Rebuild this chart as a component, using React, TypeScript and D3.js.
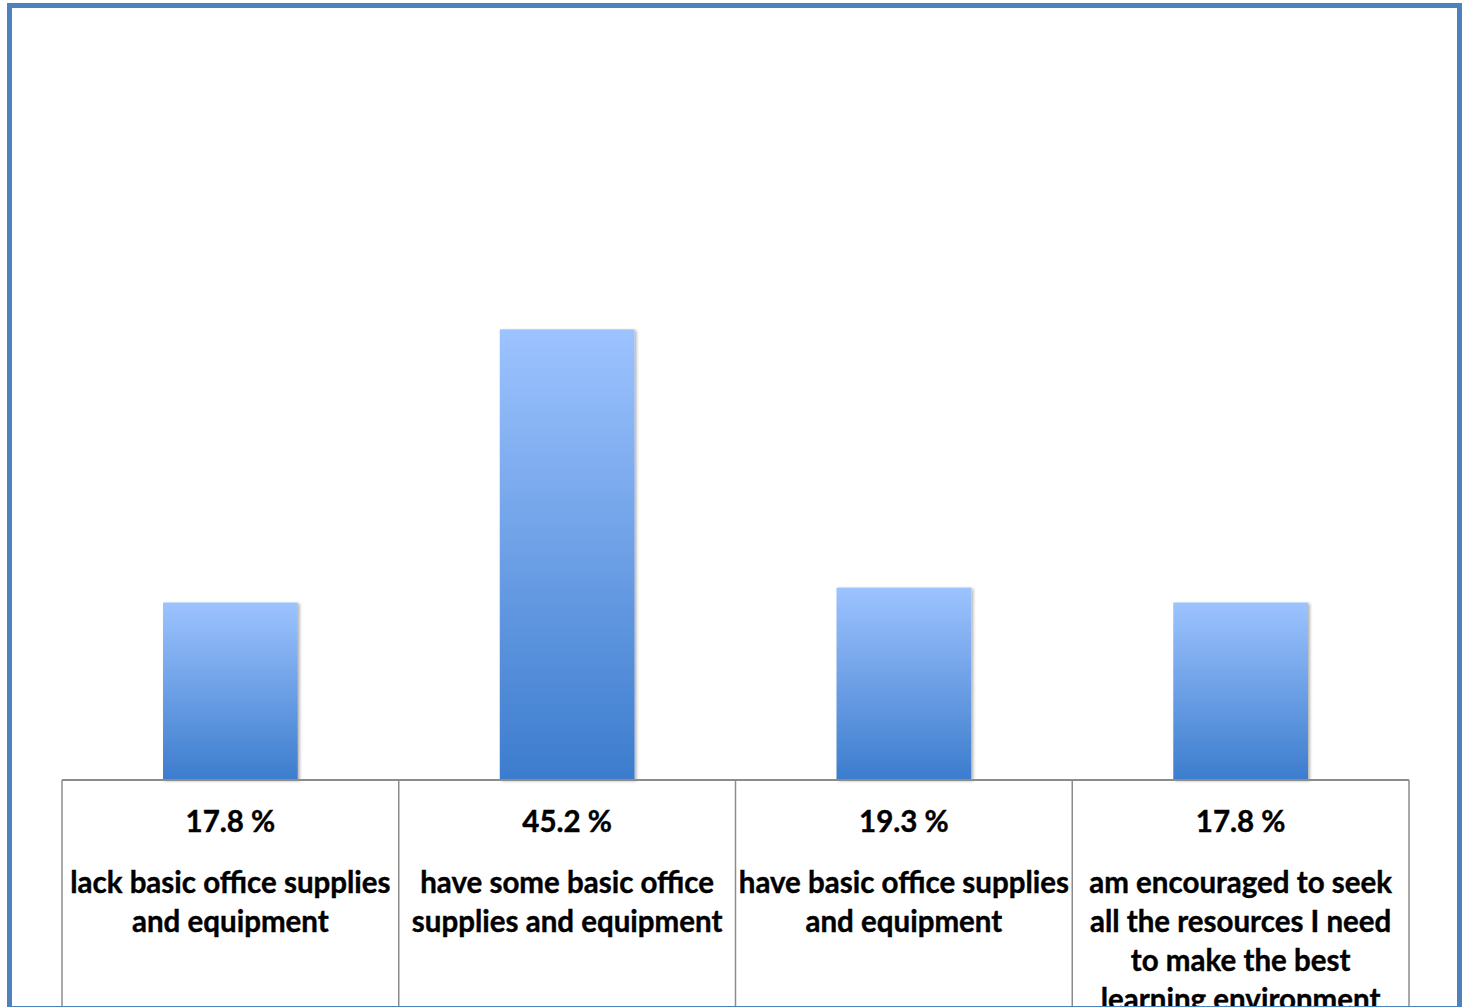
import React from 'react'
import * as d3 from 'd3'

const categories = [
  'lack basic office supplies and equipment',
  'have some basic office supplies and equipment',
  'have basic office supplies and equipment',
  'am encouraged to seek all the resources I need to make the best learning environment',
]
const values = [17.8, 45.2, 19.3, 17.8]
const labelLines = [
  ['lack basic office supplies', 'and equipment'],
  ['have some basic office', 'supplies and equipment'],
  ['have basic office supplies', 'and equipment'],
  ['am encouraged to seek', 'all the resources I need', 'to make the best', 'learning environment'],
]

const W = 1463
const H = 1007
const tableLeft = 62
const tableRight = 1409
const baseY = 780

const App: React.FC = () => {
  const x = d3.scaleBand<string>()
    .domain(categories)
    .range([tableLeft, tableRight])
    .paddingInner(0)
    .paddingOuter(0)
  const y = d3.scaleLinear().domain([0, 50]).range([baseY, baseY - 498.5])
  const bw = x.bandwidth() * 0.4
  const font = "Lato, 'Open Sans', sans-serif"

  return (
    <svg width={W} height={H} style={{ position: 'absolute', left: 0, top: 0, background: '#fff' }}>
      <defs>
        <linearGradient id="barGrad" x1="0" y1="0" x2="0" y2="1">
          <stop offset="0%" stopColor="#9dc3ff" />
          <stop offset="100%" stopColor="#3c7ccd" />
        </linearGradient>
        <filter id="shadow" x="-10%" y="-10%" width="120%" height="120%">
          <feDropShadow dx="2" dy="1" stdDeviation="1.5" floodColor="#000" floodOpacity="0.3" />
        </filter>
      </defs>
      {categories.map((c, i) => (
        <rect key={c} x={x(c)! + (x.bandwidth() - bw) / 2} y={y(values[i])}
          width={bw} height={baseY - y(values[i])} fill="url(#barGrad)" filter="url(#shadow)" />
      ))}
      {/* data table */}
      <line x1={tableLeft} x2={tableRight} y1={baseY} y2={baseY} stroke="#8c8c8c" strokeWidth={2} />
      {[...categories.map(c => x(c)!), tableRight].map((lx, i) => (
        <line key={i} x1={lx} x2={lx} y1={baseY} y2={H} stroke="#8c8c8c" strokeWidth={1.5} />
      ))}
      {categories.map((c, i) => {
        const cx = x(c)! + x.bandwidth() / 2
        return (
          <g key={c} fontFamily={font} fontWeight="bold" fontSize={29.5} fill="#000" textAnchor="middle"
            stroke="#000" strokeWidth={0.4}>
            <text x={cx} y={832}>{values[i].toFixed(1)} %</text>
            {labelLines[i].map((l, j) => (
              <text key={j} x={cx} y={893 + j * 39}>{l}</text>
            ))}
          </g>
        )
      })}
      <rect x={9.5} y={5.5} width={1450} height={1003} fill="none" stroke="#4f81bd" strokeWidth={5} />
    </svg>
  )
}

export default App
